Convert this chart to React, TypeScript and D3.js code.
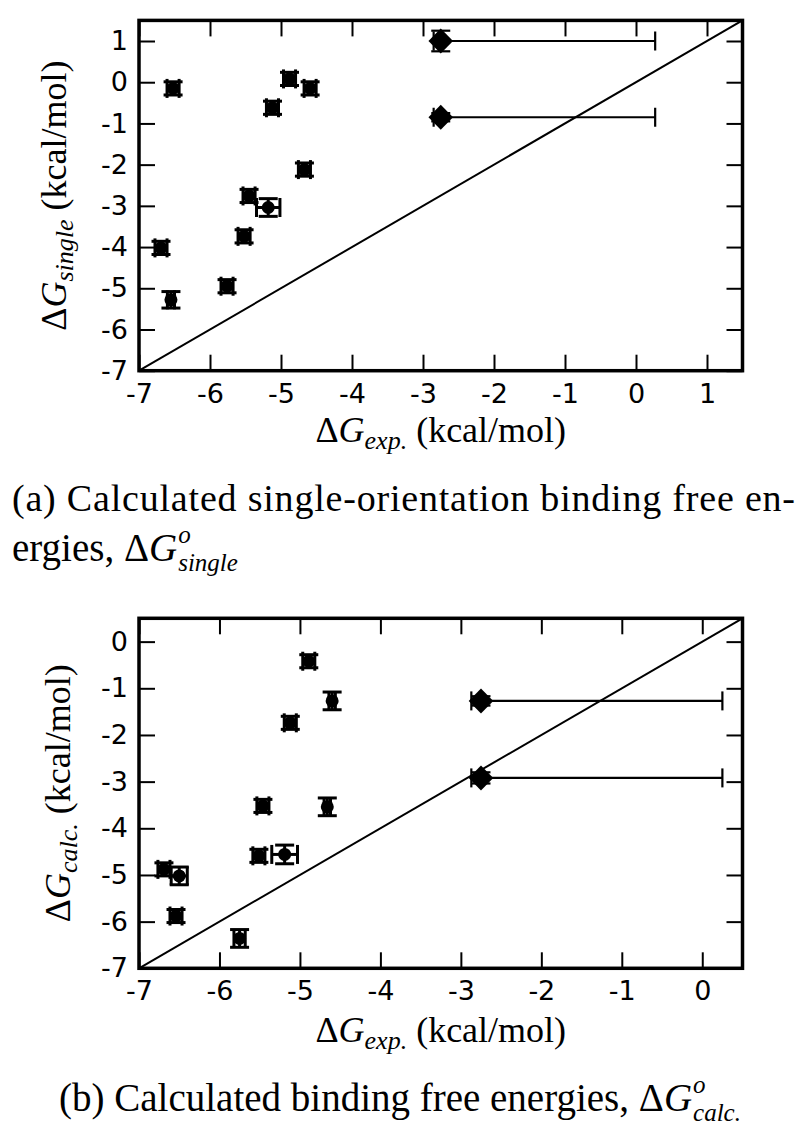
import React, { useEffect, useRef } from "react";
import * as d3 from "d3";

// (a) single-orientation binding free energies vs experiment
const aExp = [-6.52, -5.12, -4.88, -4.59, -4.67, -5.45, -5.18, -5.52, -6.69, -5.76, -6.55];
const aSingle = [-0.15, -0.62, 0.08, -0.15, -2.12, -2.76, -3.04, -3.74, -4.02, -4.95, -5.28];
const aExpErr = [0.085, 0.085, 0.085, 0.085, 0.085, 0.085, 0.165, 0.085, 0.085, 0.085, 0.05];
const aSingleErr = [0.16, 0.16, 0.16, 0.16, 0.16, 0.16, 0.215, 0.16, 0.16, 0.16, 0.2];

// ligands with only an upper bound on the experimental value (diamonds)
const aBoundExp = [-2.75, -2.75];
const aBoundSingle = [1.0, -0.85];
const aBoundErrLow = [0.1, 0.1];
const aBoundErrHigh = [3.02, 3.02];
const aBoundSingleErr = [0.25, 0.1];

const aXTicks = [-7, -6, -5, -4, -3, -2, -1, 0, 1];
const aYTicks = [-7, -6, -5, -4, -3, -2, -1, 0, 1];

// (b) calculated binding free energies vs experiment
const bExp = [-4.89, -4.6, -5.12, -5.46, -4.66, -5.51, -5.19, -6.69, -6.5, -6.54, -5.75];
const bCalc = [-0.42, -1.27, -1.74, -3.52, -3.54, -4.59, -4.56, -4.88, -5.02, -5.88, -6.36];
const bExpErr = [0.075, 0.04, 0.075, 0.075, 0.04, 0.075, 0.16, 0.075, 0.1, 0.075, 0.07];
const bCalcErr = [0.14, 0.19, 0.14, 0.14, 0.19, 0.14, 0.2, 0.14, 0.19, 0.14, 0.19];

const bBoundExp = [-2.75, -2.75];
const bBoundCalc = [-1.27, -2.92];
const bBoundErrLow = [0.12, 0.12];
const bBoundErrHigh = [3.0, 3.0];
const bBoundCalcErr = [0.1, 0.12];

const bXTicks = [-7, -6, -5, -4, -3, -2, -1, 0];
const bYTicks = [-7, -6, -5, -4, -3, -2, -1, 0];

const SERIF = "'Liberation Serif', 'Times New Roman', serif";
const SANS = "'DejaVu Sans', sans-serif";
const CAP = 9.5;

function drawPanel(svg, p) {
  const x = d3.scaleLinear().domain(p.xDomain).range([p.left, p.right]);
  const y = d3.scaleLinear().domain(p.yDomain).range([p.bottom, p.top]);
  const g = svg.append("g");

  const styleAxis = (ax) => {
    ax.select(".domain").remove();
    ax.selectAll(".tick line").attr("stroke", "#000").attr("stroke-width", 2);
    ax.selectAll(".tick text").attr("fill", "#000");
    ax.attr("font-family", SANS).attr("font-size", 27);
  };

  g.append("g").attr("transform", `translate(0,${p.bottom})`)
    .call(d3.axisBottom(x).tickValues(p.xTicks).tickSize(-16).tickPadding(13).tickFormat(d => String(d)))
    .call(styleAxis);
  g.append("g").attr("transform", `translate(${p.left},0)`)
    .call(d3.axisLeft(y).tickValues(p.yTicks).tickSize(-16).tickPadding(11).tickFormat(d => String(d)))
    .call(styleAxis);
  g.append("g").attr("transform", `translate(0,${p.top})`)
    .call(d3.axisTop(x).tickValues(p.xTicks).tickSize(-16).tickFormat(() => ""))
    .call(styleAxis);
  g.append("g").attr("transform", `translate(${p.right},0)`)
    .call(d3.axisRight(y).tickValues(p.yTicks).tickSize(-16).tickFormat(() => ""))
    .call(styleAxis);

  // y = x
  const dmax = Math.min(p.xDomain[1], p.yDomain[1]);
  g.append("line")
    .attr("x1", x(p.xDomain[0])).attr("y1", y(p.xDomain[0]))
    .attr("x2", x(dmax)).attr("y2", y(dmax))
    .attr("stroke", "#000").attr("stroke-width", 2);

  const pts = p.xs.map((v, i) => ({ x: v, y: p.ys[i], xl: p.xe[i], xh: p.xe[i], ye: p.ye[i], bound: false }))
    .concat(p.bx.map((v, i) => ({ x: v, y: p.by[i], xl: p.bxl[i], xh: p.bxh[i], ye: p.bye[i], bound: true })));

  const eb = g.append("g").attr("stroke", "#000").attr("fill", "none");
  pts.forEach(d => {
    const cx = x(d.x), cy = y(d.y);
    const x0 = x(d.x - d.xl), x1 = x(d.x + d.xh);
    const y0 = y(d.y - d.ye), y1 = y(d.y + d.ye);
    const sw = d.bound ? 2.2 : 3;
    eb.append("line").attr("stroke-width", sw).attr("x1", x0).attr("x2", x1).attr("y1", cy).attr("y2", cy);
    eb.append("line").attr("stroke-width", sw).attr("x1", cx).attr("x2", cx).attr("y1", y0).attr("y2", y1);
    [x0, x1].forEach(xx => eb.append("line").attr("stroke-width", sw)
      .attr("x1", xx).attr("x2", xx).attr("y1", cy - CAP).attr("y2", cy + CAP));
    [y0, y1].forEach(yy => eb.append("line").attr("stroke-width", sw)
      .attr("x1", cx - CAP).attr("x2", cx + CAP).attr("y1", yy).attr("y2", yy));
  });

  g.selectAll(".dot").data(pts.filter(d => !d.bound)).join("circle")
    .attr("class", "dot")
    .attr("cx", d => x(d.x)).attr("cy", d => y(d.y)).attr("r", 6.5).attr("fill", "#000");
  g.selectAll(".dia").data(pts.filter(d => d.bound)).join("path")
    .attr("class", "dia")
    .attr("transform", d => `translate(${x(d.x)},${y(d.y)})`)
    .attr("d", "M0,-12.5L12.3,0L0,12.5L-12.3,0Z").attr("fill", "#000");

  g.append("rect")
    .attr("x", p.left).attr("y", p.top)
    .attr("width", p.right - p.left).attr("height", p.bottom - p.top)
    .attr("fill", "none").attr("stroke", "#000").attr("stroke-width", 3.5);

  // axis labels
  const label = (t, sub) => {
    t.attr("font-family", SERIF).attr("font-size", 36).attr("fill", "#000").attr("text-anchor", "middle");
    t.append("tspan").text("Δ");
    t.append("tspan").attr("font-style", "italic").text("G");
    t.append("tspan").attr("font-style", "italic").attr("font-size", 26).attr("dy", 7).text(sub);
    t.append("tspan").attr("dy", -7).text(" (kcal/mol)");
  };
  label(g.append("text").attr("x", (p.left + p.right) / 2).attr("y", p.xLabelY), "exp.");
  label(g.append("text").attr("transform", `translate(${p.yLabelX},${(p.top + p.bottom) / 2}) rotate(-90)`), p.ySub);
}

function mathCaption(svg, x, y, main, sup, sub, center) {
  const g = svg.append("g").attr("font-family", SERIF).attr("fill", "#000");
  const t = g.append("text").attr("x", 0).attr("y", y).attr("font-size", 39);
  t.append("tspan").text(main + "Δ");
  t.append("tspan").attr("font-style", "italic").text("G");
  const w = t.node().getComputedTextLength();
  const s1 = g.append("text").attr("x", w + 1).attr("y", y - 18).attr("font-size", 25).attr("font-style", "italic").text(sup);
  const s2 = g.append("text").attr("x", w + 1).attr("y", y + 10).attr("font-size", 25).attr("font-style", "italic").text(sub);
  const total = w + 1 + Math.max(s1.node().getComputedTextLength(), s2.node().getComputedTextLength());
  g.attr("transform", `translate(${center ? x - total / 2 : x},0)`);
}

export default function App() {
  const ref = useRef(null);

  useEffect(() => {
    const svg = d3.select(ref.current);
    svg.selectAll("*").remove();

    drawPanel(svg, {
      left: 139, right: 742.5, top: 20.4, bottom: 370.7,
      xDomain: [-7, 1.5], yDomain: [-7, 1.5], xTicks: aXTicks, yTicks: aYTicks,
      xs: aExp, ys: aSingle, xe: aExpErr, ye: aSingleErr,
      bx: aBoundExp, by: aBoundSingle, bxl: aBoundErrLow, bxh: aBoundErrHigh, bye: aBoundSingleErr,
      xLabelY: 442, yLabelX: 66, ySub: "single",
    });
    drawPanel(svg, {
      left: 139, right: 742.5, top: 618.3, bottom: 968.3,
      xDomain: [-7, 0.5], yDomain: [-7, 0.5], xTicks: bXTicks, yTicks: bYTicks,
      xs: bExp, ys: bCalc, xe: bExpErr, ye: bCalcErr,
      bx: bBoundExp, by: bBoundCalc, bxl: bBoundErrLow, bxh: bBoundErrHigh, bye: bBoundCalcErr,
      xLabelY: 1042, yLabelX: 70, ySub: "calc.",
    });

    svg.append("text")
      .attr("x", 12).attr("y", 511)
      .attr("font-family", SERIF).attr("font-size", 38).attr("fill", "#000")
      .attr("textLength", 783).attr("lengthAdjust", "spacing")
      .text("(a) Calculated single-orientation binding free en-");
    mathCaption(svg, 12, 561, "ergies, ", "o", "single", false);
    mathCaption(svg, 400, 1111, "(b) Calculated binding free energies, ", "o", "calc.", true);
  }, []);

  return (
    <svg ref={ref} width={800} height={1135}
      style={{ position: "absolute", left: 0, top: 0, background: "#fff" }} />
  );
}
